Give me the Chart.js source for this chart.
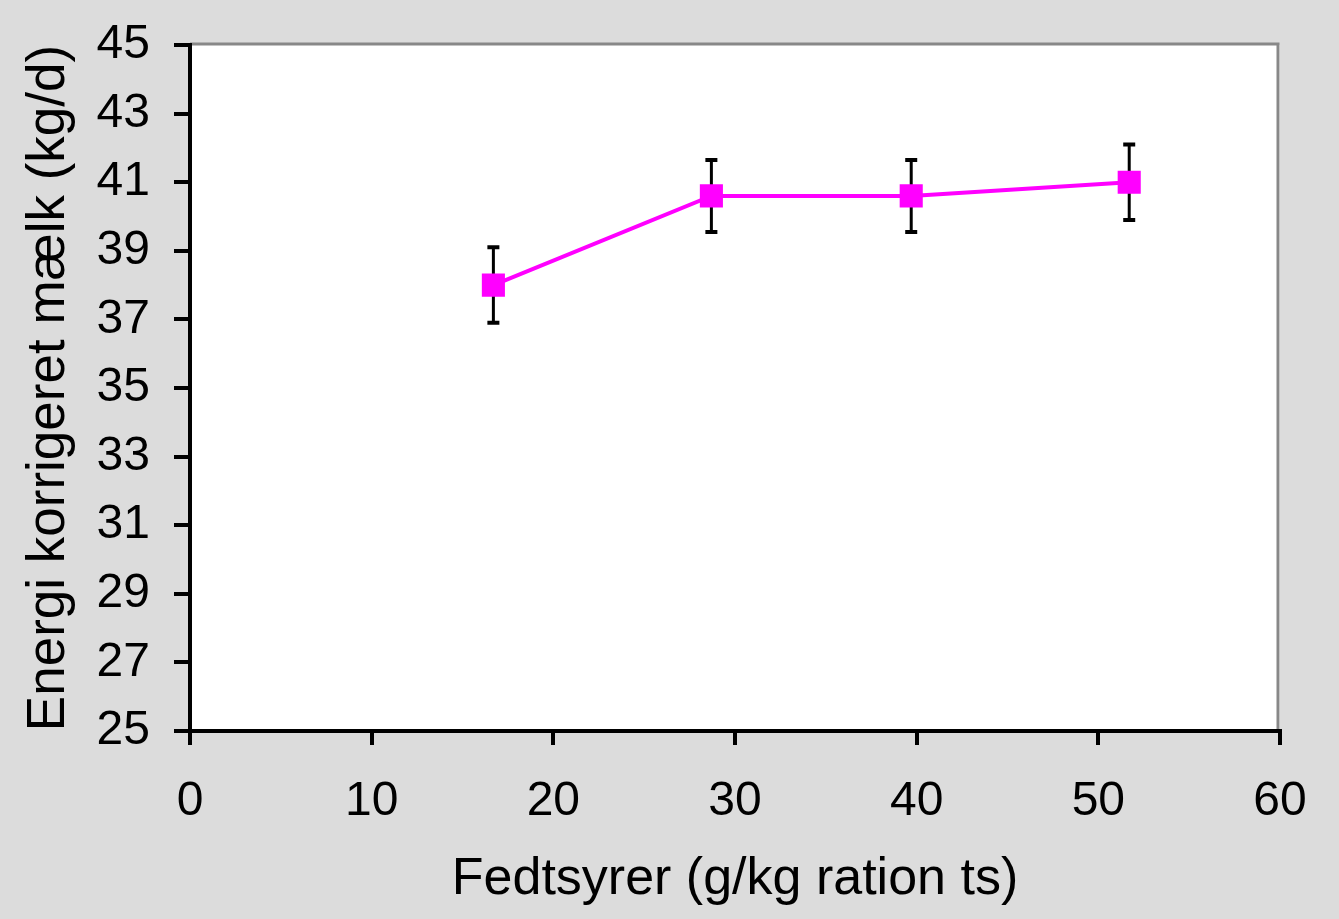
<!DOCTYPE html>
<html>
<head>
<meta charset="utf-8">
<script src="https://cdn.jsdelivr.net/npm/chart.js@4"></script>
<style>
  html, body { margin: 0; padding: 0; background: #dcdcdc; }
  #wrap { width: 1339px; height: 919px; }
</style>
</head>
<body>
<div id="wrap"><canvas id="fatChart" width="1339" height="919"></canvas></div>
<script>
// data
var fatLevels = [16.7, 28.7, 39.7, 51.7];
var ecmValues = [38.0, 40.6, 40.6, 41.0];
var ecmErrors = [1.1, 1.05, 1.05, 1.1];
var yTicks = [25, 27, 29, 31, 33, 35, 37, 39, 41, 43, 45];
var xTicks = [0, 10, 20, 30, 40, 50, 60];

var points = fatLevels.map(function (x, i) { return { x: x, y: ecmValues[i] }; });

// white plot area with grey frame on top and right
var plotBackground = {
    id: 'plotBackground',
    beforeDraw: function (chart) {
        var a = chart.chartArea, ctx = chart.ctx;
        ctx.save();
        ctx.fillStyle = '#ffffff';
        ctx.fillRect(a.left, a.top, a.right - a.left, a.bottom - a.top);
        ctx.strokeStyle = '#888888';
        ctx.lineWidth = 3;
        ctx.beginPath();
        ctx.moveTo(a.left, a.top - 1);
        ctx.lineTo(a.right - 2, a.top - 1);
        ctx.lineTo(a.right - 2, a.bottom);
        ctx.stroke();
        ctx.restore();
    }
};

// vertical error bars with caps
var errorBars = {
    id: 'errorBars',
    beforeDatasetsDraw: function (chart) {
        var xs = chart.scales.x, ys = chart.scales.y, ctx = chart.ctx;
        ctx.save();
        ctx.strokeStyle = '#000000';
        fatLevels.forEach(function (x, i) {
            var px = xs.getPixelForValue(x);
            var top = ys.getPixelForValue(ecmValues[i] + ecmErrors[i]);
            var bot = ys.getPixelForValue(ecmValues[i] - ecmErrors[i]);
            ctx.lineWidth = 3;
            ctx.beginPath();
            ctx.moveTo(px, top); ctx.lineTo(px, bot);
            ctx.stroke();
            ctx.lineWidth = 4;
            ctx.beginPath();
            ctx.moveTo(px - 6, top); ctx.lineTo(px + 6, top);
            ctx.moveTo(px - 6, bot); ctx.lineTo(px + 6, bot);
            ctx.stroke();
        });
        ctx.restore();
    }
};

var ctx = document.getElementById('fatChart').getContext('2d');
var fatChart = new Chart(ctx, {
    type: 'scatter',
    data: {
        datasets: [{
            label: 'ECM',
            data: points,
            showLine: true,
            borderColor: '#ff00ff',
            backgroundColor: '#ff00ff',
            borderWidth: 4,
            pointStyle: 'rect',
            pointRadius: 13.5,
            pointHoverRadius: 13.5
        }]
    },
    options: {
        responsive: false,
        animation: false,
        layout: { padding: { top: 45, right: 59, left: 0, bottom: 0 } },
        plugins: {
            legend: { display: false },
            tooltip: { enabled: false }
        },
        scales: {
            x: {
                type: 'linear',
                min: 0,
                max: 60,
                afterFit: function (s) { s.height = 188; s.paddingLeft = 0; s.paddingRight = 0; },
                afterBuildTicks: function (s) { s.ticks = xTicks.map(function (v) { return { value: v }; }); },
                border: { color: '#000000', width: 4 },
                grid: { drawOnChartArea: false, drawTicks: true, tickLength: 14, color: '#000000', lineWidth: 4 },
                ticks: { color: '#000000', padding: 28, font: { family: 'Liberation Sans', size: 48 } },
                title: {
                    display: true,
                    text: 'Fedtsyrer (g/kg ration ts)',
                    color: '#000000',
                    padding: { top: 0, bottom: 8 },
                    font: { family: 'Liberation Sans', size: 52 }
                }
            },
            y: {
                min: 25,
                max: 45,
                afterFit: function (s) { s.width = 190; s.paddingTop = 0; s.paddingBottom = 0; },
                afterBuildTicks: function (s) { s.ticks = yTicks.map(function (v) { return { value: v }; }); },
                border: { color: '#000000', width: 4 },
                grid: { drawOnChartArea: false, drawTicks: true, tickLength: 16, color: '#000000', lineWidth: 4 },
                ticks: { color: '#000000', padding: 24, font: { family: 'Liberation Sans', size: 48 } },
                title: {
                    display: true,
                    text: 'Energi korrigeret mælk (kg/d)',
                    color: '#000000',
                    padding: { top: 18, bottom: 0 },
                    font: { family: 'Liberation Sans', size: 53 }
                }
            }
        }
    },
    plugins: [plotBackground, errorBars]
});
</script>
</body>
</html>
